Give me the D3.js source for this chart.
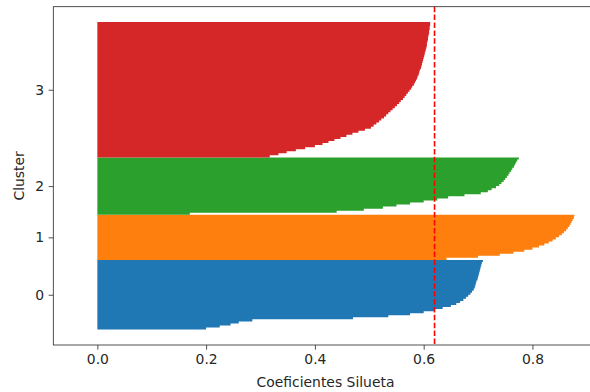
<!DOCTYPE html>
<html>
<head>
<meta charset="utf-8">
<script src="https://cdn.jsdelivr.net/npm/d3@7"></script>
<style>
    body { margin: 0; background: #fff; }
    text { font-family: "DejaVu Sans", sans-serif; }
</style>
</head>
<body>
<div id="chart"></div>
<script>
/* DATA */
// Cluster names
const clusterLabels = ["0", "1", "2", "3"];
// Silhouette values of each sample, sorted ascending per cluster
const cluster0 = [0.200, 0.225, 0.245, 0.260, 0.285, 0.470, 0.535, 0.575, 0.600, 0.620,
    0.635, 0.650, 0.660, 0.667, 0.673, 0.678, 0.682, 0.686, 0.689, 0.692,
    0.694, 0.695, 0.696, 0.697, 0.699, 0.700, 0.701, 0.702, 0.703, 0.704,
    0.705, 0.706, 0.707, 0.709];
const cluster1 = [0.642, 0.700, 0.740, 0.765, 0.785, 0.800, 0.812, 0.822, 0.830, 0.837,
    0.843, 0.849, 0.854, 0.858, 0.862, 0.865, 0.868, 0.870, 0.872, 0.874,
    0.876, 0.877];
const cluster2 = [0.170, 0.440, 0.490, 0.525, 0.550, 0.575, 0.600, 0.625, 0.645, 0.675,
    0.705, 0.718, 0.725, 0.733, 0.739, 0.743, 0.747, 0.750, 0.753, 0.756,
    0.758, 0.761, 0.763, 0.766, 0.768, 0.770, 0.772, 0.775];
const cluster3 = [0.317, 0.333, 0.348, 0.365, 0.382, 0.400, 0.414, 0.425, 0.436, 0.447,
    0.458, 0.469, 0.480, 0.492, 0.503, 0.508, 0.513, 0.518, 0.522, 0.527,
    0.531, 0.535, 0.539, 0.543, 0.547, 0.551, 0.555, 0.558, 0.562, 0.565,
    0.568, 0.571, 0.574, 0.577, 0.579, 0.582, 0.584, 0.586, 0.588, 0.589,
    0.591, 0.592, 0.593, 0.595, 0.596, 0.597, 0.598, 0.599, 0.600, 0.601,
    0.602, 0.603, 0.604, 0.605, 0.606, 0.606, 0.607, 0.608, 0.608, 0.609,
    0.610, 0.610, 0.611, 0.611, 0.612, 0.612];
// Mean silhouette score
const avgScore = 0.62;
// Tick labels
const xTicks = [0, 0.2, 0.4, 0.6, 0.8];

/* GRAPH */
const colors = ["#1f77b4", "#ff7f0e", "#2ca02c", "#d62728"];
const tc = "#262626";
const fs = "13.9px";
const W = 590, H = 392;
const ax = { left: 53.3, right: 597.7, top: 6.7, bottom: 345 };

const clusters = [cluster0, cluster1, cluster2, cluster3];
const total = d3.sum(clusters, (c) => c.length);

// Scales (x limits, y with 5% margins)
const x = d3.scaleLinear().domain([-0.081, 0.92]).range([ax.left, ax.right]);
const y = d3.scaleLinear().domain([-0.05 * total, 1.05 * total]).range([ax.bottom, ax.top]);

const svg = d3.select("#chart")
    .append("svg")
    .attr("width", W)
    .attr("height", H);

// One staircase outline per cluster (a bar of height 1 for every sample)
let lower = 0;
const mids = [];
clusters.forEach((c, k) => {
    const p = d3.path();
    p.moveTo(x(0), y(lower));
    c.forEach((v, j) => {
        p.lineTo(x(v), y(lower + j));
        p.lineTo(x(v), y(lower + j + 1));
    });
    p.lineTo(x(0), y(lower + c.length));
    p.closePath();
    svg.append("path")
        .attr("d", p.toString())
        .attr("fill", colors[k]);
    mids.push(lower + c.length / 2);
    lower += c.length;
});

// Average line
svg.append("line")
    .attr("x1", x(avgScore))
    .attr("x2", x(avgScore))
    .attr("y1", ax.top)
    .attr("y2", ax.bottom)
    .attr("stroke", "red")
    .attr("stroke-width", 1.6)
    .attr("stroke-dasharray", "5.5,2.4");

// X-axis
const gx = svg.append("g")
    .attr("transform", `translate(0, ${ax.bottom})`)
    .call(d3.axisBottom(x).tickValues(xTicks).tickFormat(d3.format(".1f")).tickSize(4.7).tickPadding(4.5));
// Y-axis
const gy = svg.append("g")
    .attr("transform", `translate(${ax.left}, 0)`)
    .call(d3.axisLeft(y).tickValues(mids).tickFormat((d, i) => clusterLabels[i]).tickSize(4.7).tickPadding(4.5));

[gx, gy].forEach((g) => {
    g.select(".domain").remove();
    g.selectAll("line").attr("stroke", tc).attr("stroke-width", 0.8);
    g.selectAll("text").attr("font-size", fs).attr("fill", tc).style("font-family", "DejaVu Sans");
});

// Frame
svg.append("rect")
    .attr("x", ax.left)
    .attr("y", ax.top)
    .attr("width", ax.right - ax.left)
    .attr("height", ax.bottom - ax.top)
    .attr("fill", "none")
    .attr("stroke", tc)
    .attr("stroke-width", 0.8);

// Axis titles
svg.append("text")
    .attr("x", (ax.left + ax.right) / 2)
    .attr("y", 387)
    .attr("text-anchor", "middle")
    .attr("font-size", fs)
    .attr("fill", tc)
    .text("Coeficientes Silueta");
svg.append("text")
    .attr("transform", `translate(24, ${(ax.top + ax.bottom) / 2}) rotate(-90)`)
    .attr("text-anchor", "middle")
    .attr("font-size", fs)
    .attr("fill", tc)
    .text("Cluster");
</script>
</body>
</html>
